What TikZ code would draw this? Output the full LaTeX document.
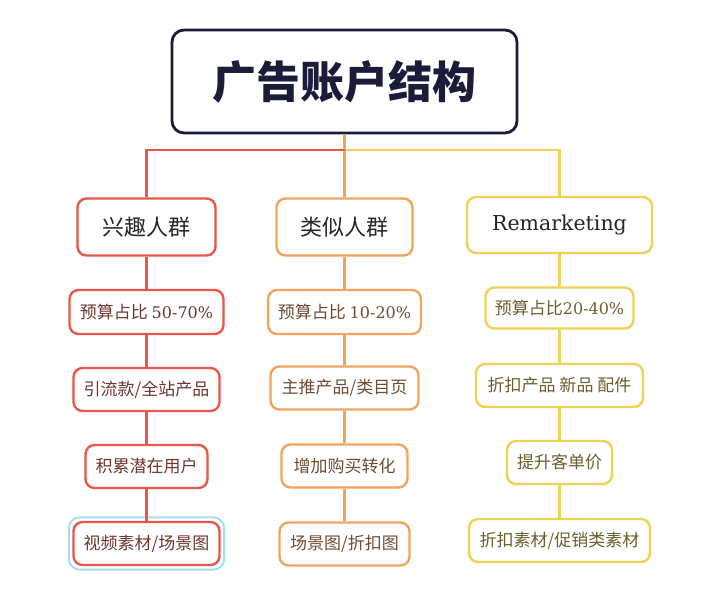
\documentclass[tikz,border=0pt]{standalone}
\usepackage{fontspec}
\setmainfont{DejaVu Serif}
\newfontfamily\cjk{Noto Sans CJK SC}
\usetikzlibrary{fit}
\definecolor{cRoot}{HTML}{1B1B3A}
\definecolor{cR}{HTML}{E8574A}
\definecolor{cO}{HTML}{F0A45C}
\definecolor{cY}{HTML}{EDD255}
\definecolor{tR}{HTML}{6E3630}
\definecolor{tO}{HTML}{6E4C34}
\definecolor{tY}{HTML}{6B5F2C}
\definecolor{tTop}{HTML}{262626}
\definecolor{cSel}{HTML}{A9DDF6}
\begin{document}
\begin{tikzpicture}[x=1pt,y=-1pt,
  box/.style={draw, rounded corners=9pt, line width=2.4pt, fill=white, inner sep=0pt, align=center},
  lvl/.style={box, font=\cjk\fontsize{22}{26}\selectfont, text=tTop, minimum height=57pt},
  itm/.style={box, font=\cjk\fontsize{17}{20}\selectfont, minimum height=43pt},
  redb/.style={draw=cR, text=tR},
  orb/.style={draw=cO, text=tO},
  yelb/.style={draw=cY, text=tY},
  lnR/.style={cR, line width=2.4pt},
  lnO/.style={cO, line width=2.4pt},
  lnY/.style={cY, line width=2.4pt}
]
\fill[white] (0,0) rectangle (701,590);
\useasboundingbox (0,0) rectangle (701,590);

% nodes
\node[box, draw=cRoot, line width=2.8pt, rounded corners=12pt, minimum width=345pt, minimum height=103pt,
  font=\cjk\bfseries\fontsize{44}{50}\selectfont, text=cRoot] (root) at (344.5,81.5) {广告账户结构};

\node[lvl, redb, text=tTop, minimum width=138pt] (a1) at (146.5,227) {兴趣人群};
\node[lvl, orb, text=tTop, minimum width=136pt] (b1) at (344.5,227) {类似人群};
\node[lvl, yelb, text=tTop, minimum width=185pt, minimum height=56pt, font=\rmfamily\fontsize{20.5}{24}\selectfont] (c1) at (559.5,225) {Remarketing};

\node[itm, redb, minimum width=154pt, minimum height=44pt] (a2) at (146.5,312) {预算占比 {\rmfamily\fontsize{16}{19}\selectfont 50-70\%}};
\node[itm, orb, minimum width=153pt, minimum height=44pt] (b2) at (344.5,312) {预算占比 {\rmfamily\fontsize{16}{19}\selectfont 10-20\%}};
\node[itm, yelb, minimum width=148pt, minimum height=41pt] (c2) at (559.5,308) {预算占比{\rmfamily\fontsize{16}{19}\selectfont 20-40\%}};

\node[itm, redb, minimum width=146pt] (a3) at (146.5,389.5) {引流款/全站产品};
\node[itm, orb, minimum width=148pt] (b3) at (344.5,388) {主推产品/类目页};
\node[itm, yelb, minimum width=167pt] (c3) at (559.5,385.5) {折扣产品 新品 配件};

\node[itm, redb, minimum width=122pt] (a4) at (146.5,466.5) {积累潜在用户};
\node[itm, orb, minimum width=126pt] (b4) at (344.5,466) {增加购买转化};
\node[itm, yelb, minimum width=105pt] (c4) at (559.5,462.5) {提升客单价};

\node[itm, redb, minimum width=146pt] (a5) at (146.5,543.5) {视频素材/场景图};
\node[itm, orb, minimum width=130pt] (b5) at (344.5,544) {场景图/折扣图};
\node[itm, yelb, minimum width=181pt] (c5) at (559.5,540.5) {折扣素材/促销类素材};

% selection outline
\node[draw=cSel, line width=2pt, rounded corners=11pt, inner sep=3.5pt, fit=(a5)] (sel) {};

% connectors
\coordinate (j) at (344.5,150);
\draw[lnO] (root.south) -- (b1.north);
\draw[lnR] (j) -| (a1.north);
\draw[lnY] (j) -| (c1.north);

\draw[lnR] (a1.south) -- (a2.north);
\draw[lnR] (a2.south) -- (a3.north);
\draw[lnR] (a3.south) -- (a4.north);
\draw[lnR] (a4.south) -- (a5.north);
\draw[lnO] (b1.south) -- (b2.north);
\draw[lnO] (b2.south) -- (b3.north);
\draw[lnO] (b3.south) -- (b4.north);
\draw[lnO] (b4.south) -- (b5.north);
\draw[lnY] (c1.south) -- (c2.north);
\draw[lnY] (c2.south) -- (c3.north);
\draw[lnY] (c3.south) -- (c4.north);
\draw[lnY] (c4.south) -- (c5.north);
\end{tikzpicture}
\end{document}
